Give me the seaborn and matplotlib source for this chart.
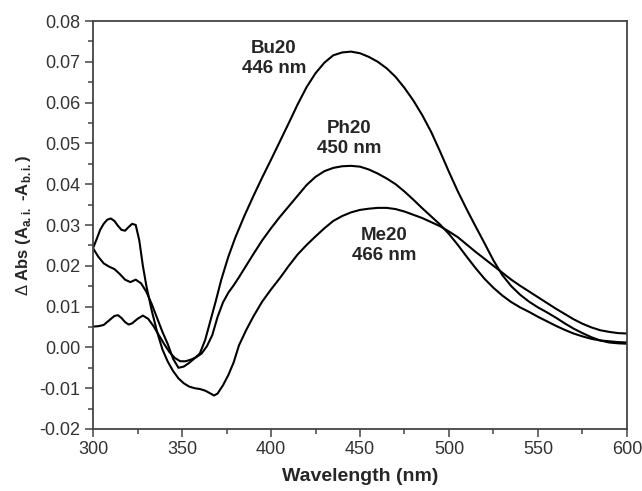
import numpy as np
import pandas as pd
import seaborn as sns
import matplotlib.pyplot as plt
from matplotlib.ticker import MultipleLocator

# values (wavelength in nm, delta absorbance)
bu20_nm = [300, 303, 306, 309, 312, 315, 318, 321, 324, 327, 330, 333, 336, 339, 342, 345,
           348, 351, 354, 357, 360, 363, 366, 369, 372, 376, 380, 385, 390, 395, 400, 405,
           410, 415, 420, 425, 430, 435, 440, 445, 450, 455, 460, 465, 470, 475, 480, 485,
           490, 495, 500, 505, 510, 515, 520, 525, 530, 535, 540, 545, 550, 555, 560, 565,
           570, 575, 580, 585, 590, 595, 600]
bu20_abs = [0.0243, 0.0222, 0.0206, 0.0198, 0.0192, 0.0180, 0.0166, 0.0160, 0.0166, 0.0157,
            0.0136, 0.0106, 0.0072, 0.0038, 0.0008, -0.0028, -0.0050, -0.0047, -0.0038,
            -0.0027, -0.0015, 0.0018, 0.0066, 0.0114, 0.0165, 0.0222, 0.0270, 0.0322, 0.0370,
            0.0416, 0.0460, 0.0505, 0.0550, 0.0596, 0.0638, 0.0672, 0.0698, 0.0716, 0.0723,
            0.0725, 0.0721, 0.0712, 0.0700, 0.0684, 0.0663, 0.0636, 0.0605, 0.0569, 0.0528,
            0.0480, 0.0430, 0.0382, 0.0338, 0.0296, 0.0255, 0.0213, 0.0177, 0.0150, 0.0129,
            0.0112, 0.0098, 0.0086, 0.0073, 0.0059, 0.0046, 0.0035, 0.0025, 0.0017, 0.0012,
            0.0010, 0.0009]

ph20_nm = [300, 303, 306, 309, 312, 314, 316, 318, 320, 322, 325, 328, 331, 334, 337, 340,
           343, 346, 349, 352, 355, 358, 361, 364, 367, 370, 373, 376, 379, 382, 386, 390,
           395, 400, 405, 410, 415, 420, 425, 430, 435, 440, 445, 450, 455, 460, 465, 470,
           475, 480, 485, 490, 495, 500, 505, 510, 515, 520, 525, 530, 535, 540, 545, 550,
           555, 560, 565, 570, 575, 580, 585, 590, 595, 600]
ph20_abs = [0.0051, 0.0052, 0.0055, 0.0066, 0.0077, 0.0079, 0.0072, 0.0062, 0.0056, 0.0059,
            0.0070, 0.0078, 0.0070, 0.0052, 0.0030, 0.0008, -0.0012, -0.0026, -0.0034,
            -0.0034, -0.0030, -0.0024, -0.0015, 0.0003, 0.0030, 0.0075, 0.0110, 0.0134,
            0.0152, 0.0172, 0.0200, 0.0228, 0.0262, 0.0292, 0.0320, 0.0346, 0.0372, 0.0398,
            0.0418, 0.0432, 0.0440, 0.0444, 0.0445, 0.0443, 0.0436, 0.0426, 0.0414, 0.0400,
            0.0382, 0.0362, 0.0341, 0.0321, 0.0301, 0.0278, 0.0251, 0.0222, 0.0194, 0.0168,
            0.0146, 0.0127, 0.0111, 0.0098, 0.0087, 0.0075, 0.0064, 0.0053, 0.0043, 0.0034,
            0.0027, 0.0021, 0.0017, 0.0015, 0.0013, 0.0012]

me20_nm = [300, 302, 304, 306, 308, 310, 312, 314, 316, 318, 320, 322, 324, 326, 328, 330,
           333, 336, 339, 342, 345, 348, 351, 354, 357, 360, 363, 366, 368, 370, 373, 376,
           379, 382, 386, 390, 395, 400, 405, 410, 415, 420, 425, 430, 435, 440, 445, 450,
           455, 460, 465, 470, 475, 480, 485, 490, 495, 500, 505, 510, 515, 520, 525, 530,
           535, 540, 545, 550, 555, 560, 565, 570, 575, 580, 585, 590, 595, 600]
me20_abs = [0.0243, 0.0265, 0.0288, 0.0303, 0.0313, 0.0316, 0.0310, 0.0298, 0.0288, 0.0286,
            0.0295, 0.0303, 0.0300, 0.0262, 0.0200, 0.0150, 0.0090, 0.0038, -0.0005,
            -0.0035, -0.0058, -0.0076, -0.0088, -0.0096, -0.0100, -0.0102, -0.0106, -0.0113,
            -0.0118, -0.0113, -0.0093, -0.0068, -0.0037, 0.0005, 0.0042, 0.0075, 0.0112,
            0.0142, 0.0170, 0.0200, 0.0228, 0.0251, 0.0272, 0.0292, 0.0310, 0.0322, 0.0331,
            0.0337, 0.0340, 0.0342, 0.0342, 0.0339, 0.0333, 0.0325, 0.0317, 0.0307, 0.0297,
            0.0284, 0.0270, 0.0252, 0.0234, 0.0217, 0.0200, 0.0183, 0.0166, 0.0151, 0.0137,
            0.0123, 0.0109, 0.0095, 0.0082, 0.0069, 0.0058, 0.0049, 0.0042, 0.0038, 0.0035,
            0.0034]

labels = ['Bu20\n446 nm', 'Ph20\n450 nm', 'Me20\n466 nm']
label_x = [401.7, 443.8, 463.5]
label_y = [0.0708, 0.0512, 0.0250]

sns.set_style('ticks')
plt.rcParams['font.family'] = ['Liberation Sans', 'DejaVu Sans']
plt.rcParams['mathtext.fontset'] = 'custom'
plt.rcParams['mathtext.rm'] = 'Liberation Sans'
plt.rcParams['mathtext.bf'] = 'Liberation Sans:bold'

fig = plt.figure(figsize=(6.42, 4.91), dpi=100)
ax = fig.add_axes([0.1449, 0.1263, 0.8317, 0.8309])

for xs, ys in [(bu20_nm, bu20_abs), (ph20_nm, ph20_abs), (me20_nm, me20_abs)]:
    sns.lineplot(x=xs, y=ys, ax=ax, color='black', linewidth=1.5, sort=False)

for txt, tx, ty in zip(labels, label_x, label_y):
    ax.text(tx, ty, txt, ha='center', va='center', fontsize=13.5, fontweight='bold',
            linespacing=1.25)

ax.set_xlim(300, 600)
ax.set_ylim(-0.02, 0.08)
ax.xaxis.set_major_locator(MultipleLocator(50))
ax.xaxis.set_minor_locator(MultipleLocator(25))
ax.yaxis.set_major_locator(MultipleLocator(0.01))
ax.yaxis.set_minor_locator(MultipleLocator(0.005))
ax.yaxis.set_major_formatter(plt.FuncFormatter(lambda v, p: f'{v:.2f}'))

ax.tick_params(which='major', direction='out', length=6, width=1.1, colors='#444444',
               labelsize=13, labelcolor='#333333', pad=3)
ax.tick_params(which='minor', direction='out', length=3.5, width=1.1, colors='#444444')
for s in ax.spines.values():
    s.set_color('#444444')
    s.set_linewidth(1.3)

ax.set_xlabel('Wavelength (nm)', fontsize=14, fontweight='bold', labelpad=7)
ax.set_ylabel(r'$\Delta$ Abs (A$_{\mathbf{a.i.}}$ -A$_{\mathbf{b.i.}}$)', fontsize=12,
              fontweight='bold', labelpad=5)

fig.savefig('out.png', dpi=100)
